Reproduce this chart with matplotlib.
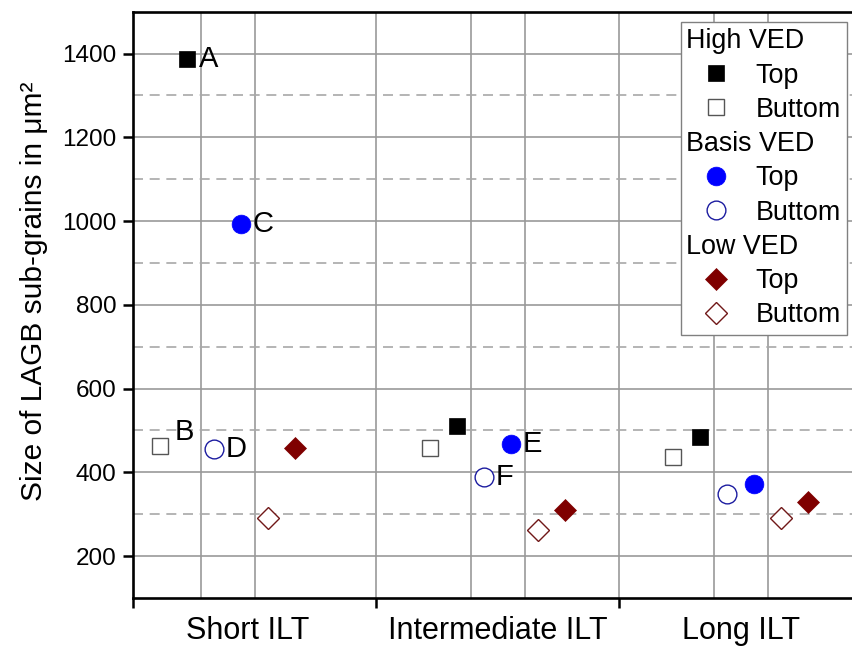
# Size of LAGB sub-grains for three VED levels, top/bottom, at three ILT settings
import matplotlib
matplotlib.use("Agg")
import matplotlib.pyplot as plt
from matplotlib.lines import Line2D

plt.rcParams['font.family'] = ['Liberation Sans', 'DejaVu Sans']

groups = ['Short ILT', 'Intermediate ILT', 'Long ILT']
group_centers = [0.889, 2.0, 3.0]
label_pos = [0.97, 2.0, 3.0]
slot = 0.111  # spacing between the six series inside a group

high_top = [1386, 511, 485]
high_bottom = [463, 459, 436]
basis_top = [994, 467, 373]
basis_bottom = [455, 389, 348]
low_top = [457, 309, 328]
low_bottom = [291, 262, 290]

headers = ['High VED', 'Basis VED', 'Low VED']

fig = plt.figure(figsize=(8.52, 6.48), dpi=100)
ax = fig.add_axes([0.1565, 0.0772, 0.8553, 0.9048])

# series in left-to-right order inside each group
series = [
    (high_bottom, dict(marker='s', ms=11, mfc='white', mec='#555555', mew=1.0)),
    (high_top, dict(marker='s', ms=12, mfc='black', mec='black', mew=0.5)),
    (basis_bottom, dict(marker='o', ms=13.5, mfc='white', mec='#1c1ca0', mew=1.0)),
    (basis_top, dict(marker='o', ms=13.5, mfc='#0000ff', mec='#0000ff', mew=0.5)),
    (low_bottom, dict(marker='D', ms=11, mfc='white', mec='#701818', mew=1.0)),
    (low_top, dict(marker='D', ms=11.5, mfc='#7f0000', mec='#7f0000', mew=0.5)),
]
handles = []
for k, (vals, st) in enumerate(series):
    xs = [c + (k - 2.5) * slot for c in group_centers]
    h, = ax.plot(xs, vals, linestyle='none', zorder=5, **st)
    handles.append(h)
hb, ht, bb, bt, lb, lt = handles

# letter marks
fs_lab = 21
def tag(txt, x, y, dx=8, dy=0):
    ax.annotate(txt, (x, y), xytext=(dx, dy), textcoords='offset points',
                ha='left', va='center', fontsize=fs_lab, zorder=6)

tag('A', group_centers[0] - 1.5 * slot, high_top[0])
tag('B', group_centers[0] - 2.5 * slot, high_bottom[0], dx=10, dy=10)
tag('C', group_centers[0] + 0.5 * slot, basis_top[0])
tag('D', group_centers[0] - 0.5 * slot, basis_bottom[0])
tag('E', group_centers[1] + 0.5 * slot, basis_top[1])
tag('F', group_centers[1] - 0.5 * slot, basis_bottom[1])

# axes ranges and ticks
ax.set_xlim(0.5, 3.5)
ax.set_ylim(100, 1500)
ax.set_xticks([0.5, 1.5, 2.5, 3.5])
ax.set_xticklabels([])
ax.set_xticks(label_pos, minor=True)
ax.set_xticklabels(groups, minor=True, fontsize=22)
ax.tick_params(axis='x', which='minor', length=0, pad=13)
ax.tick_params(axis='x', which='major', length=7, width=1.8, direction='out')

ax.set_yticks(range(200, 1401, 200))
ax.set_yticks(range(300, 1400, 200), minor=True)
ax.tick_params(axis='y', which='major', length=7, width=1.8, direction='out',
               labelsize=17.5, pad=5)
ax.tick_params(axis='y', which='minor', length=0)

# grid
gcol = '#999999'
ax.grid(which='major', axis='y', color=gcol, lw=1.2, zorder=0)
ax.grid(which='minor', axis='y', color='#a8a8a8', lw=1.2, ls=(0, (6, 4)), zorder=0)
ax.grid(which='major', axis='x', color=gcol, lw=1.2, zorder=0)
for c in group_centers:
    ax.axvline(c - slot, color=gcol, lw=1.2, zorder=0)
    ax.axvline(c + slot, color=gcol, lw=1.2, zorder=0)
ax.set_axisbelow(True)

for s in ax.spines.values():
    s.set_linewidth(1.9)

ax.set_ylabel('Size of LAGB sub-grains in μm²', fontsize=21.5)
ax.yaxis.set_label_coords(-0.117, 0.523)

# legend; header rows get an empty label and the header text is put in later
blank = Line2D([], [], linestyle='none')
leg = ax.legend(
    handles=[blank, ht, hb, blank, bt, bb, blank, lt, lb],
    labels=['', 'Top', 'Buttom', '', 'Top', 'Buttom', '', 'Top', 'Buttom'],
    loc='upper right', bbox_to_anchor=(0.9794, 0.9824), borderaxespad=0,
    fontsize=19.4, frameon=True, fancybox=False, edgecolor='#808080',
    framealpha=1, borderpad=0.24, handlelength=2.15, handletextpad=0.38,
    labelspacing=0.305, numpoints=1)
leg.get_frame().set_linewidth(1.0)

fig.canvas.draw()
texts = leg.get_texts()
fb = leg.get_frame().get_window_extent()
step = (texts[1].get_window_extent().y0 - texts[2].get_window_extent().y0)
for n, i in enumerate((0, 3, 6)):
    y0 = texts[i + 1].get_window_extent().y0 + step
    ax.annotate(headers[n], (fb.x0 + 5, y0), xycoords='figure pixels',
                ha='left', va='bottom', fontsize=19.4, zorder=10)

fig.savefig('out.png', dpi=100)
